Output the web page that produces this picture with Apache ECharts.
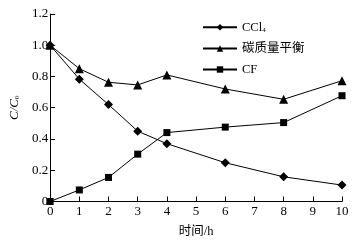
<!DOCTYPE html>
<html><head><meta charset="utf-8">
<script src="https://cdn.jsdelivr.net/npm/echarts@6/dist/echarts.min.js"></script>
<style>html,body{margin:0;padding:0;background:#fff}#c{width:361px;height:243px}</style>
</head><body><div id="c"></div>
<script>
const hours = [0, 1, 2, 3, 4, 6, 8, 10];
const ccl4 = [1.0, 0.783, 0.62, 0.45, 0.37, 0.248, 0.158, 0.105];
const carbonBalance = [1.0, 0.85, 0.763, 0.746, 0.81, 0.72, 0.654, 0.773];
const cf = [0.0, 0.074, 0.154, 0.303, 0.441, 0.476, 0.505, 0.677];
const seriesNames = ['CCl4', '碳质量平衡', 'CF'];
const xTicks = [0,1,2,3,4,5,6,7,8,9,10];

const font = '"Liberation Serif","Noto Sans CJK SC",serif';
const pair = (ys) => hours.map((h, i) => [h, ys[i]]);
const mk = (name, ys, sym, size) => ({
  name, type: 'line', data: pair(ys), symbol: sym, symbolSize: size,
  lineStyle: { color: '#000', width: 1 }, itemStyle: { color: '#000' },
  emphasis: { disabled: true }, animation: false
});
const chart = echarts.init(document.getElementById('c'), null, { renderer: 'canvas' });
chart.setOption({
  animation: false,
  grid: { left: 48, right: 19, top: 14, bottom: 34 },
  legend: {
    orient: 'vertical', left: 202, top: 21, padding: 0, itemWidth: 34, itemHeight: 8, itemGap: 8.5,
    data: seriesNames,
    textStyle: { fontFamily: font, fontSize: 12.5, color: '#000',
      rich: { n: { fontFamily: font, fontSize: 12.5, color: '#000' },
              s: { fontFamily: font, fontSize: 7, color: '#000', verticalAlign: 'bottom', padding: [6, 0, 0, 0] } } },
    formatter: (n) => n === 'CCl4' ? '{n|CCl}{s|4}' : '{n|' + n + '}'
  },
  xAxis: {
    type: 'value', min: 0, max: 10, interval: 1,
    name: '时间/h', nameLocation: 'middle', nameGap: 24,
    nameTextStyle: { fontFamily: font, fontSize: 12.5, color: '#000' },
    axisLine: { lineStyle: { color: '#000', width: 1 } },
    axisTick: { inside: true, length: 5, lineStyle: { color: '#000' } },
    axisLabel: { fontFamily: font, fontSize: 13, color: '#000', margin: 4,
      formatter: (v) => String(v) },
    splitLine: { show: false }
  },
  yAxis: {
    type: 'value', min: 0, max: 1.2, interval: 0.2,
    name: '{i|C}{i|/C}{s|0}', nameLocation: 'middle', nameGap: 23, nameRotate: 90,
    nameTextStyle: { fontFamily: font, fontSize: 13, color: '#000',
      rich: { i: { fontFamily: font, fontStyle: 'italic', fontSize: 13, color: '#000' },
              s: { fontFamily: font, fontSize: 7, color: '#000', verticalAlign: 'bottom', padding: [6, 0, 0, 0] } } },
    axisLine: { show: true, lineStyle: { color: '#000', width: 1 } },
    axisTick: { show: true, inside: true, length: 5, lineStyle: { color: '#000' } },
    axisLabel: { fontFamily: font, fontSize: 13, color: '#000', margin: 2,
      formatter: (v) => v === 0 ? '0' : v.toFixed(1) },
    splitLine: { show: false }
  },
  series: [
    mk(seriesNames[0], ccl4, 'diamond', 9),
    mk(seriesNames[1], carbonBalance, 'triangle', 9),
    mk(seriesNames[2], cf, 'rect', 7)
  ]
});
</script></body></html>
